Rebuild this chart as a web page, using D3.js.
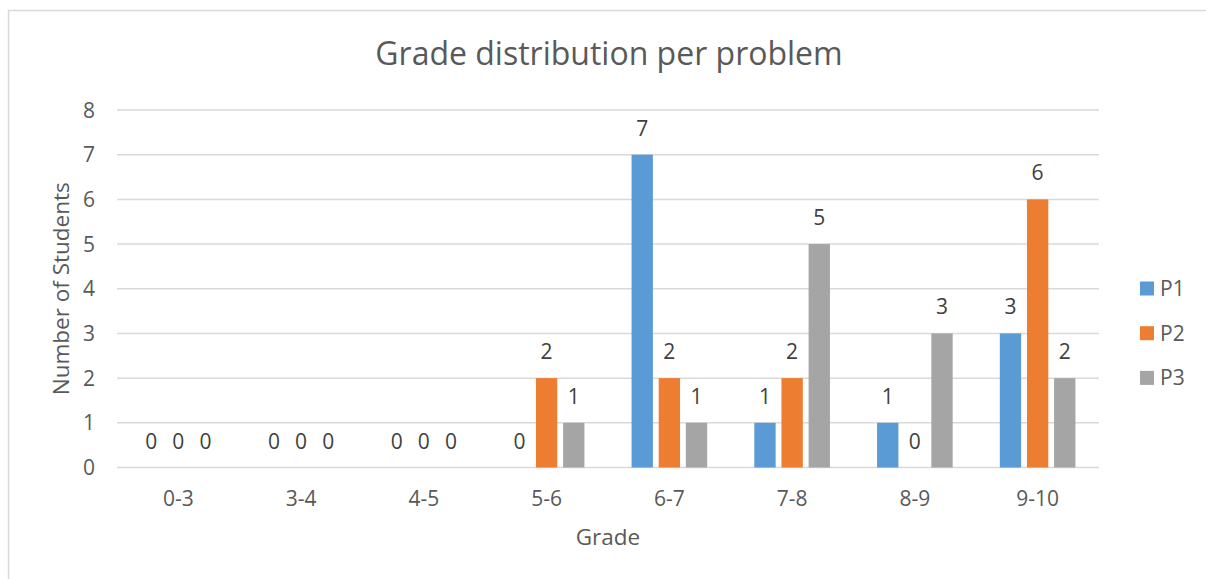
<!DOCTYPE html>
<html><head><meta charset="utf-8">
<script src="https://cdn.jsdelivr.net/npm/d3@7"></script>
<style>body{margin:0;background:#fff;}svg{display:block;font-family:"Open Sans",Lato,sans-serif;}</style>
</head><body><svg id="c" width="1206" height="579"></svg>
<script>
const categories = ["0-3","3-4","4-5","5-6","6-7","7-8","8-9","9-10"];
const seriesNames = ["P1","P2","P3"];
const p1 = [0,0,0,0,7,1,1,3];
const p2 = [0,0,0,2,2,2,0,6];
const p3 = [0,0,0,1,1,5,3,2];
const yTicks = [0,1,2,3,4,5,6,7,8];
const colors = ["#5b9bd5","#ed7d31","#a5a5a5"];
const seriesValues = [p1,p2,p3];

const svg = d3.select("#c");
const textCol = "#595959";
svg.append("rect").attr("x",8.5).attr("y",10.5).attr("width",1210).attr("height",580)
  .attr("fill","none").attr("stroke","#d9d9d9").attr("stroke-width",1.5);

const L=117,R=1099,T=110,B=467.5;
const x0 = d3.scaleBand().domain(categories).range([L,R]).paddingInner(0.384).paddingOuter(0.192);
const x1 = d3.scaleBand().domain(seriesNames).range([0,x0.bandwidth()]).paddingInner(0.214);
const y = d3.scaleLinear().domain([0,8]).range([B,T]);

svg.append("g").selectAll("line").data(yTicks).join("line")
  .attr("x1",L).attr("x2",R).attr("y1",d=>y(d)).attr("y2",d=>y(d))
  .attr("stroke","#d9d9d9").attr("stroke-width",1.5);

svg.append("g").selectAll("text").data(yTicks).join("text")
  .attr("x",95).attr("y",d=>y(d)).attr("dy","0.36em").attr("text-anchor","end")
  .attr("font-size",21).attr("fill",textCol).text(d=>d);

svg.append("g").selectAll("text").data(categories).join("text")
  .attr("x",d=>x0(d)+x0.bandwidth()/2).attr("y",506).attr("text-anchor","middle")
  .attr("font-size",21).attr("fill",textCol).text(d=>d);

const rows = categories.map((c,i)=>({cat:c, vals: seriesNames.map((s,j)=>({s, v:seriesValues[j][i], j}))}));
const g = svg.append("g").selectAll("g").data(rows).join("g")
  .attr("transform",d=>`translate(${x0(d.cat)},0)`);
g.selectAll("rect").data(d=>d.vals).join("rect")
  .attr("x",d=>x1(d.s)).attr("width",x1.bandwidth())
  .attr("y",d=>y(d.v)).attr("height",d=>y(0)-y(d.v))
  .attr("fill",d=>colors[d.j]);
g.selectAll("text").data(d=>d.vals).join("text")
  .attr("x",d=>x1(d.s)+x1.bandwidth()/2).attr("y",d=>y(d.v)-19)
  .attr("text-anchor","middle").attr("font-size",21).attr("fill","#404040").text(d=>d.v);

svg.append("text").attr("x",609).attr("y",65).attr("text-anchor","middle")
  .attr("font-size",32).attr("fill",textCol).text("Grade distribution per problem");
svg.append("text").attr("x",608).attr("y",545).attr("text-anchor","middle")
  .attr("font-size",22.5).attr("fill",textCol).text("Grade");
svg.append("text").attr("transform",`translate(69,${(T+B)/2}) rotate(-90)`).attr("text-anchor","middle")
  .attr("font-size",22.5).attr("fill",textCol).text("Number of Students");

const lg = svg.append("g").selectAll("g").data(seriesNames).join("g")
  .attr("transform",(d,i)=>`translate(1140,${288.5+i*44.7})`);
lg.append("rect").attr("x",0).attr("y",-7).attr("width",14).attr("height",14).attr("fill",(d,i)=>colors[i]);
lg.append("text").attr("x",20).attr("y",0).attr("dy","0.36em").attr("font-size",21).attr("fill",textCol).text(d=>d);
</script></body></html>
